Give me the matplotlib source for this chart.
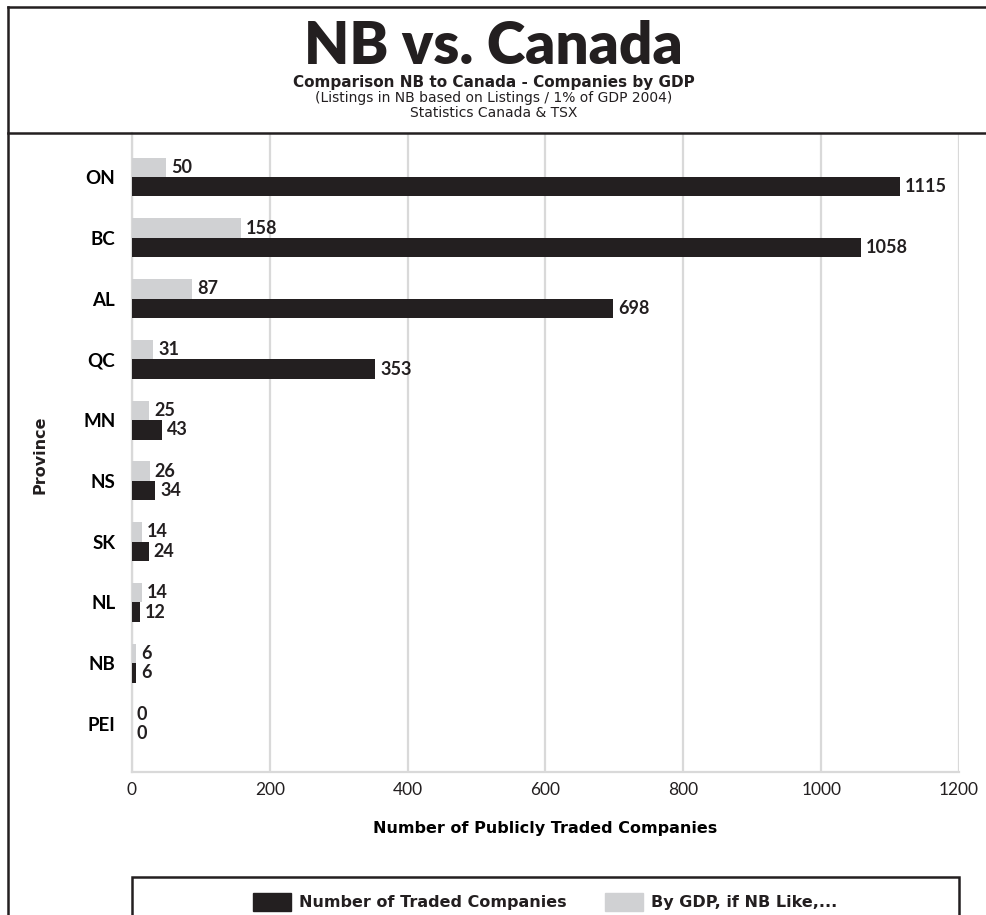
import matplotlib.pyplot as plt
import numpy as np
from matplotlib.lines import Line2D
from matplotlib.patches import Patch, Rectangle

provinces = ['ON', 'BC', 'AL', 'QC', 'MN', 'NS', 'SK', 'NL', 'NB', 'PEI']
traded = [1115, 1058, 698, 353, 43, 34, 24, 12, 6, 0]
by_gdp = [50, 158, 87, 31, 25, 26, 14, 14, 6, 0]
x_ticks = [0, 200, 400, 600, 800, 1000, 1200]

DARK = '#231f20'
LIGHT = '#d0d1d3'
GRID = '#d9d9d9'
NARROW = ['Lato', 'DejaVu Sans']

plt.rcParams['font.family'] = ['DejaVu Sans']
plt.rcParams['text.color'] = DARK

W, H = 987, 915
fig = plt.figure(figsize=(W / 100, H / 100), dpi=100)


def fx(px):
    return px / W


def fy(py):
    return 1 - py / H


# header frame
fig.add_artist(Line2D([fx(8), 1], [fy(7), fy(7)], color=DARK, lw=1.8))
fig.add_artist(Line2D([fx(8), 1], [fy(133), fy(133)], color=DARK, lw=1.8))
fig.add_artist(Line2D([fx(8), fx(8)], [fy(7), 0], color=DARK, lw=1.8))

fig.text(0.5, fy(46), 'NB vs. Canada', ha='center', va='center',
         fontsize=42, fontweight='heavy', family=NARROW)
fig.text(0.5, fy(83), 'Comparison NB to Canada - Companies by GDP',
         ha='center', va='center', fontsize=11, fontweight='bold')
fig.text(0.5, fy(98), '(Listings in NB based on Listings / 1% of GDP 2004)',
         ha='center', va='center', fontsize=10)
fig.text(0.5, fy(113), 'Statistics Canada & TSX',
         ha='center', va='center', fontsize=10)

ax = fig.add_axes([fx(132), fy(772), fx(959) - fx(132), fy(133) - fy(772)])

y = np.arange(len(provinces))
bh = 0.32
gray_bars = ax.barh(y - bh / 2, by_gdp, height=bh, color=LIGHT, zorder=3)
dark_bars = ax.barh(y + bh / 2, traded, height=bh, color=DARK, zorder=3)

for bars, vals in ((gray_bars, by_gdp), (dark_bars, traded)):
    for b, v in zip(bars, vals):
        ax.annotate(str(v), (b.get_width(), b.get_y() + b.get_height() / 2),
                    xytext=(3.5, 0), textcoords='offset points',
                    ha='left', va='center', fontsize=13,
                    fontweight='bold', family=NARROW, zorder=4)

ax.set_xlim(0, 1200)
ax.set_ylim(9.79, -0.724)
ax.set_xticks(x_ticks)
ax.set_xticklabels([str(t) for t in x_ticks], family=NARROW, fontsize=12.5)
ax.set_yticks(y)
ax.set_yticklabels(provinces, fontweight='bold', fontsize=13.5, family=NARROW)
ax.tick_params(axis='x', length=0, pad=7, labelcolor=DARK)
ax.tick_params(axis='y', length=0, pad=12)

ax.grid(axis='x', color=GRID, lw=1.6, zorder=0)
for side in ('top', 'right'):
    ax.spines[side].set_visible(False)
for side in ('left', 'bottom'):
    ax.spines[side].set_color(GRID)
    ax.spines[side].set_linewidth(1.6)

ax.set_xlabel('Number of Publicly Traded Companies', fontsize=11.5,
              fontweight='bold', labelpad=17)
fig.text(fx(40), fy(455), 'Province', rotation=90, ha='center', va='center',
         fontsize=11.5, fontweight='bold')

# legend box running off the bottom edge
fig.add_artist(Rectangle((fx(132), fy(935)), fx(959) - fx(132), fy(877) - fy(935),
                         transform=fig.transFigure, fill=False,
                         edgecolor=DARK, lw=1.8))
handles = [Patch(color=DARK), Patch(color=LIGHT)]
leg = fig.legend(handles, ['Number of Traded Companies', 'By GDP, if NB Like,...'],
                 loc='center', bbox_to_anchor=(fx(545), fy(902)), ncol=2,
                 frameon=False, fontsize=11.5, handlelength=2.4,
                 handleheight=1.45, handletextpad=0.5, columnspacing=2.4)
for t in leg.get_texts():
    t.set_fontweight('bold')

fig.savefig('out.png', dpi=100)
